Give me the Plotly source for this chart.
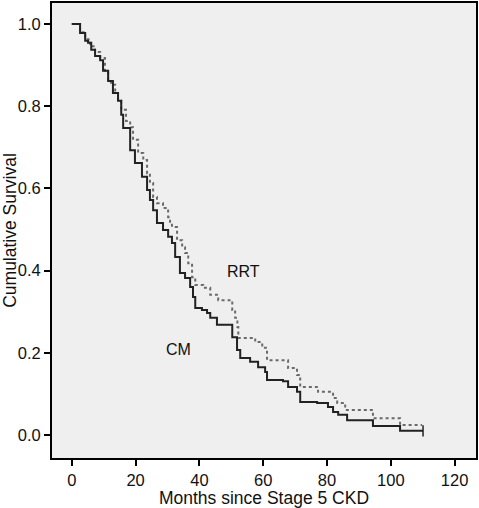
import plotly.graph_objects as go

# CM (conservative management) Kaplan-Meier step points: (months, survival)
cm_months = [0, 2.6, 4.2, 5.1, 6.1, 7.3, 8.9, 9.8, 11.4, 12.9, 14.5, 15.5, 16.1, 18.3, 19.8,
             22.0, 23.6, 24.5, 25.5, 26.7, 28.6, 30.2, 31.4, 32.4, 33.9, 35.5, 37.1, 38.0,
             38.7, 40.8, 42.4, 43.4, 45.5, 50.3, 51.8, 52.8, 55.9, 58.4, 60.6, 61.2, 66.2,
             67.8, 70.6, 71.6, 76.9, 80.3, 81.9, 83.5, 86.3, 94.4, 102.9, 110.1]
cm_surv = [1.0, 0.978, 0.959, 0.954, 0.937, 0.922, 0.912, 0.886, 0.861, 0.832, 0.813, 0.779,
           0.747, 0.693, 0.662, 0.628, 0.596, 0.572, 0.547, 0.516, 0.499, 0.482, 0.467, 0.433,
           0.394, 0.382, 0.360, 0.336, 0.309, 0.304, 0.297, 0.285, 0.268, 0.238, 0.207, 0.187,
           0.178, 0.165, 0.153, 0.134, 0.131, 0.117, 0.105, 0.080, 0.078, 0.068, 0.056, 0.049,
           0.036, 0.022, 0.010, 0.010]

# RRT (renal replacement therapy) Kaplan-Meier step points
rrt_months = [0, 2.6, 4.2, 5.7, 7.3, 8.9, 10.4, 11.4, 12.3, 13.6, 14.5, 15.5, 17.0, 18.3,
              19.2, 20.8, 22.4, 23.6, 24.5, 25.5, 26.7, 28.6, 30.2, 30.8, 31.4, 33.0, 34.6,
              35.5, 36.5, 37.7, 38.7, 41.2, 43.4, 45.9, 50.3, 51.2, 51.9, 52.2, 57.5, 59.7,
              61.2, 67.8, 70.6, 71.6, 77.2, 81.9, 83.2, 85.7, 94.4, 102.9, 109.8]
rrt_surv = [1.0, 0.98, 0.963, 0.946, 0.932, 0.917, 0.886, 0.864, 0.852, 0.832, 0.813, 0.791,
            0.764, 0.749, 0.718, 0.686, 0.669, 0.637, 0.613, 0.579, 0.564, 0.552, 0.530, 0.516,
            0.506, 0.474, 0.457, 0.443, 0.418, 0.384, 0.365, 0.358, 0.341, 0.328, 0.304, 0.285,
            0.263, 0.236, 0.226, 0.212, 0.182, 0.163, 0.146, 0.117, 0.105, 0.090, 0.078, 0.061,
            0.041, 0.024, 0.024]

x_ticks = [0, 20, 40, 60, 80, 100, 120]
y_ticks = [0.0, 0.2, 0.4, 0.6, 0.8, 1.0]
y_tick_labels = ["0.0", "0.2", "0.4", "0.6", "0.8", "1.0"]

FONT = "Liberation Sans, Arial, sans-serif"

fig = go.Figure()
fig.add_trace(go.Scatter(
    x=rrt_months, y=rrt_surv, mode="lines", line_shape="hv",
    line=dict(color="#6a6a6a", width=2, dash="dot"), showlegend=False))
fig.add_trace(go.Scatter(
    x=cm_months, y=cm_surv, mode="lines", line_shape="hv",
    line=dict(color="#222222", width=2), showlegend=False))
# censor tick at end of CM
fig.add_trace(go.Scatter(
    x=[cm_months[-1]], y=[cm_surv[-1]], mode="markers",
    marker=dict(symbol="line-ns-open", size=8, color="#222222",
                line=dict(color="#222222", width=1.5)),
    showlegend=False))

fig.add_annotation(x=53.7, y=0.397, text="RRT", showarrow=False,
                   font=dict(family=FONT, size=16, color="#111111"))
fig.add_annotation(x=33.3, y=0.209, text="CM", showarrow=False,
                   font=dict(family=FONT, size=16, color="#111111"))

fig.update_layout(
    width=479, height=508,
    margin=dict(l=52, r=3, t=3, b=50, autoexpand=False),
    paper_bgcolor="white", plot_bgcolor="#efefef",
    font=dict(family=FONT, size=16.5, color="#111111"),
)
fig.update_xaxes(
    range=[-6.2, 126.7], tickvals=x_ticks, ticks="outside", ticklen=6, tickwidth=1.5,
    tickcolor="black", showgrid=False, zeroline=False, showline=True, linewidth=2,
    linecolor="black", mirror=True, automargin=False, tickfont=dict(size=16.5),
    title=dict(text="Months since Stage 5 CKD", font=dict(size=17.5), standoff=1),
)
fig.update_yaxes(
    range=[-0.056, 1.051], tickvals=y_ticks, ticktext=y_tick_labels, ticks="outside",
    ticklen=6, tickwidth=1.5, tickcolor="black", showgrid=False, zeroline=False,
    showline=True, linewidth=2, linecolor="black", mirror=True, automargin=False,
    tickfont=dict(size=16.5),
    title=dict(text="Cumulative Survival", font=dict(size=17.5), standoff=1),
)

fig.write_html("out.html", config={"displayModeBar": False},
               post_script="document.body.style.margin='0';")
